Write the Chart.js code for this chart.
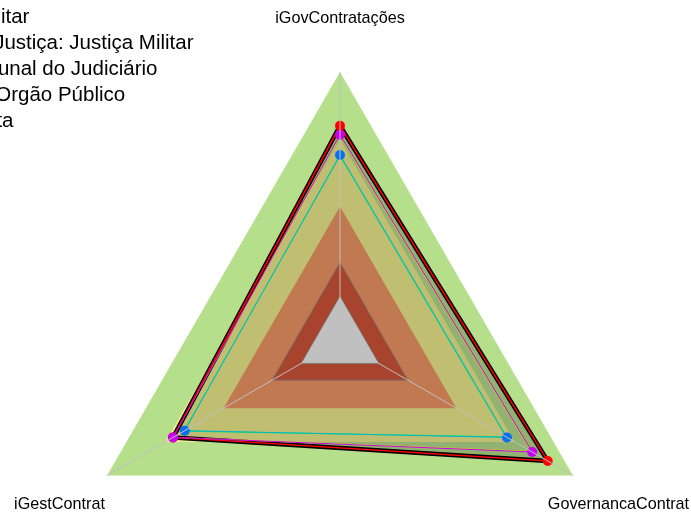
<!DOCTYPE html>
<html lang="pt-BR">
<head>
<meta charset="utf-8">
<title>Radar de governança das contratações</title>
<script src="https://cdn.jsdelivr.net/npm/chart.js@4.4.1/dist/chart.umd.min.js"></script>
<style>
  html, body { margin: 0; padding: 0; overflow: hidden; background: #fff; }
  canvas { display: block; }
</style>
</head>
<body>
<canvas id="radar" width="691" height="620"></canvas>
<script>
// ── data ───────────────────────────────────────────
const axes = ['iGovContratações', 'GovernancaContrat', 'iGestContrat'];

const seriesLabels = [
  'Justiça Militar',
  'Ramo de Justiça: Justiça Militar',
  'Perfil: Tribunal do Judiciário',
  'Média do Orgão Público',
  'Adm. Direta'
];

const serieOrgao  = [0.76, 0.87, 0.66];
const serieRamo   = [0.72, 0.79, 0.66];
const serieTipo   = [0.63, 0.66, 0.60];
const serieOrgPub = [0.625, 0.655, 0.605];
const serieMeta   = [0.715, 0.785, 0.66];

// faixas de capacidade, de dentro para fora
const bandLevels = [0, 0.15, 0.4, 0.7, 1];

// ── styles ─────────────────────────────────────────
const FONT = '"Liberation Sans", Arial, sans-serif';
const bandColors = ['rgb(192,192,192)', 'rgb(210,85,58)', 'rgb(240,152,100)', 'rgb(240,238,142)', 'rgb(182,223,140)'];

// drawing order: a lower "order" is painted on top
const seriesStyle = [
  { line: '#FF0000', width: 1.5, dot: '#FF0000', radius: 5, order: 3 },
  { line: '#C800F0', width: 1,   dot: '#C800F0', radius: 5, order: 2 },
  { line: '#00B8C8', width: 1,   dot: '#0870F0', radius: 5, order: 1 },
  { line: '#10E060', width: 1,   dot: '#10E060', radius: 0, order: 4 },
  { line: '#D8E000', width: 1,   dot: '#D8E000', radius: 0, order: 5 }
];
const seriesData = [serieOrgao, serieRamo, serieTipo, serieOrgPub, serieMeta];

const datasets = seriesData.map((data, i) => ({
  label: seriesLabels[i],
  data,
  order: seriesStyle[i].order,
  borderColor: seriesStyle[i].line,
  borderWidth: seriesStyle[i].width,
  backgroundColor: seriesStyle[i].dot,
  pointBackgroundColor: seriesStyle[i].dot,
  pointBorderWidth: 0,
  pointRadius: seriesStyle[i].radius,
  fill: false
}));

// contorno preto grosso sob a série vermelha
datasets.push({
  label: 'contorno',
  data: serieOrgao,
  order: 10,
  borderColor: '#000',
  borderWidth: 4.5,
  backgroundColor: 'rgba(0,0,0,0.2)',
  pointRadius: 0,
  fill: 'origin'
});

bandLevels.forEach((level, i) => {
  datasets.push({
    label: 'faixa ' + level,
    data: axes.map(() => level),
    order: 20 + i,
    borderColor: i <= 1 ? 'rgba(140,140,140,0.8)' : 'rgba(0,0,0,0)',
    borderWidth: i <= 1 ? 1 : 0,
    backgroundColor: bandColors[i],
    pointRadius: 0,
    fill: 'start'
  });
});

// ── plugins ────────────────────────────────────────
// legend drawn partly off the left edge, like the original
const legendOffCanvas = {
  id: 'legendOffCanvas',
  afterLayout(chart) {
    const lg = chart.legend;
    lg.left = -140.5;
    lg.top = 1.25;
    lg.right = lg.left + lg.width;
    lg.bottom = lg.top + lg.height;
  }
};

// axis titles centred at 1.2 × radius
const axisTitles = {
  id: 'axisTitles',
  afterDraw(chart) {
    const scale = chart.scales.r;
    const ctx = chart.ctx;
    ctx.save();
    ctx.font = '16.2px ' + FONT;
    ctx.fillStyle = '#000';
    ctx.textAlign = 'center';
    ctx.textBaseline = 'middle';
    axes.forEach((label, i) => {
      const p = scale.getPointPosition(i, scale.drawingArea * 1.204);
      ctx.fillText(label, p.x - (i === 1 ? 2 : 0), p.y + 1.5);
    });
    ctx.restore();
  }
};

new Chart(document.getElementById('radar'), {
  type: 'radar',
  data: { labels: axes, datasets },
  plugins: [legendOffCanvas, axisTitles],
  options: {
    responsive: false,
    animation: false,
    devicePixelRatio: 1,
    events: [],
    layout: { padding: { left: 71, right: 82, top: 72, bottom: 10 } },
    elements: { line: { tension: 0 } },
    plugins: {
      tooltip: { enabled: false },
      legend: {
        position: 'chartArea',
        align: 'start',
        labels: {
          filter: item => item.datasetIndex < seriesLabels.length,
          sort: (a, b) => a.datasetIndex - b.datasetIndex,
          font: { family: FONT, size: 20.5 },
          color: '#000',
          boxWidth: 30,
          padding: 5.5
        }
      }
    },
    scales: {
      r: {
        min: -0.2,
        max: 1,
        startAngle: 0,
        ticks: { display: false },
        grid: { display: false, z: 1 },
        angleLines: { display: true, color: 'rgb(192,192,192)', lineWidth: 1 },
        pointLabels: { display: false }
      }
    }
  }
});
</script>
</body>
</html>
